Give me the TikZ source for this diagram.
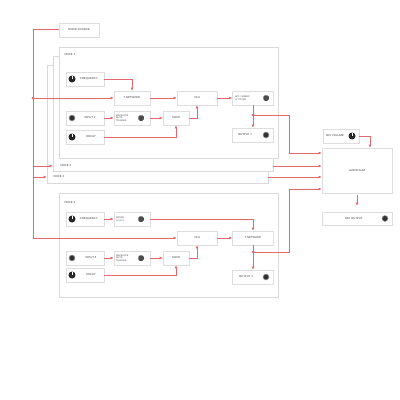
\documentclass[tikz,border=0pt]{standalone}
\usepackage{fontspec}
\setmainfont{Liberation Sans}
\usetikzlibrary{arrows.meta,shadows}
\definecolor{wirered}{RGB}{230,104,108}
\tikzset{
  panel/.style={draw=black!15, fill=white, line width=1.2pt, inner sep=0},
  box/.style={draw=black!13, fill=white, line width=1.4pt, minimum height=14mm, inner sep=0,
    font=\fontsize{8}{9.5}\selectfont, text=black!75,
    drop shadow={shadow xshift=0.5mm, shadow yshift=-0.7mm, opacity=0.08}},
  txt/.style={font=\fontsize{8}{9.5}\selectfont, text=black!75, inner sep=0, align=left},
  wire/.style={draw=wirered, line width=1mm},
  arr/.style={wire, -{Latex[length=9pt,width=8pt]}},
  knob/.style={circle, fill=black!85, minimum size=7mm, inner sep=0,
    path picture={\draw[white, line width=1.4pt] (path picture bounding box.center) -- (path picture bounding box.north);}},
  jack/.style={circle, fill=black!80, draw=black!35, line width=1.5pt, minimum size=6mm, inner sep=0},
  trim/.style={rectangle, rounded corners=1.5mm, fill=black!70, minimum size=5.5mm, inner sep=0},
  dot/.style={circle, fill=wirered, inner sep=0, minimum size=3mm}
}
\begin{document}
\begin{tikzpicture}[x=1mm, y=-1mm]
\path[fill=white, use as bounding box] (0,0) rectangle (400,400);

% noise source
\node[box, minimum width=40mm] (noise) at (79,30) {NOISE SOURCE};

% stacked voice panels
\node[panel, minimum width=221mm, minimum height=118mm] (v3) at (157.5,124) {};
\node[panel, minimum width=220mm, minimum height=115mm] (v2) at (163,113.5) {};
\node[panel, minimum width=219mm, minimum height=111mm] (v1) at (168.5,102.5) {};
\node[txt, anchor=west] (v3-t) at (53,177) {VOICE 3};
\node[txt, anchor=west] (v2-t) at (60,166) {VOICE 2};
\node[txt, anchor=west] (v1-t) at (64,55) {VOICE 1};

% voice 1
\node[box, minimum width=38mm] (freq1) at (85,79) {};
\node[knob] (freq1-k) at (72,79) {};
\node[txt] (freq1-t) at (89,79) {FREQUENCY};
\node[box, minimum width=36mm] (tnet1) at (132,98) {T-NETWORK};
\node[box, minimum width=40mm] (vca1) at (197,98) {VCA};
\node[box, minimum width=41mm] (filt1) at (253,98) {};
\node[txt, anchor=west, font=\fontsize{6.5}{7.5}\selectfont] (filt1-t) at (235,98) {HPF / SWEEP\\LP FILTER};
\node[trim] (filt1-k) at (266,98) {};
\node[box, minimum width=41mm] (out1) at (253,135) {};
\node[txt] (out1-t) at (245,135) {OUTPUT 1};
\node[jack] (out1-j) at (266,135) {};
\node[box, minimum width=38mm] (in1) at (85,118) {};
\node[jack] (in1-j) at (72,118) {};
\node[txt] (in1-t) at (90,118) {INPUT 1};
\node[box, minimum width=36mm] (env1) at (132,118) {};
\node[txt, anchor=west, font=\fontsize{6.5}{7.5}\selectfont] (env1-t) at (116,118) {ENVELOPE\\MUTE\\TRIGGER};
\node[trim] (env1-k) at (141,118) {};
\node[box, minimum width=26mm] (slew1) at (176,118) {SLEW};
\node[box, minimum width=38mm] (decay1) at (85,137) {};
\node[knob] (decay1-k) at (72,137) {};
\node[txt] (decay1-t) at (91,137) {DECAY};

% voice 4
\node[panel, minimum width=219mm, minimum height=104mm] (v4) at (168.5,245) {};
\node[txt, anchor=west] (v4-t) at (64,203) {VOICE 4};
\node[box, minimum width=38mm] (freq4) at (85,219) {};
\node[knob] (freq4-k) at (72,219) {};
\node[txt] (freq4-t) at (89,219) {FREQUENCY};
\node[box, minimum width=36mm] (range4) at (132,219) {};
\node[txt, anchor=west, font=\fontsize{6.5}{7.5}\selectfont] (range4-t) at (116,219) {RANGE\\H / M / L};
\node[trim] (range4-k) at (141,219) {};
\node[box, minimum width=40mm] (vca4) at (197,238) {VCA};
\node[box, minimum width=41mm] (tnet4) at (253,238) {T-NETWORK};
\node[box, minimum width=41mm] (out4) at (253,277) {};
\node[txt] (out4-t) at (246,277) {OUTPUT 4};
\node[jack] (out4-j) at (266,277) {};
\node[box, minimum width=38mm] (in4) at (85,258) {};
\node[jack] (in4-j) at (72,258) {};
\node[txt] (in4-t) at (91,258) {INPUT 4};
\node[box, minimum width=36mm] (env4) at (132,258) {};
\node[txt, anchor=west, font=\fontsize{6.5}{7.5}\selectfont] (env4-t) at (116,258) {ENVELOPE\\MUTE\\TRIGGER};
\node[trim] (env4-k) at (141,258) {};
\node[box, minimum width=26mm] (slew4) at (176,258) {SLEW};
\node[box, minimum width=38mm] (decay4) at (85,275) {};
\node[knob] (decay4-k) at (72,275) {};
\node[txt] (decay4-t) at (91,275) {DECAY};

% mixer
\node[box, minimum width=70mm, minimum height=45mm] (sum) at (357,170.5) {AUDIO SUM};
\node[box, minimum width=36mm] (mixvol) at (341,136) {};
\node[txt] (mixvol-t) at (335,136) {MIX VOLUME};
\node[knob] (mixvol-k) at (352,136) {};
\node[box, minimum width=70mm, minimum height=13mm] (mixout) at (357,218.5) {};
\node[txt] (mixout-t) at (354,218.5) {MIX OUTPUT};
\node[jack] (mixout-j) at (385,218.5) {};

% noise bus
\coordinate (tap1) at (33,98);
\coordinate (tap2) at (33,166);
\coordinate (tap3) at (33,177);
\coordinate (tap4) at (33,238);
\draw[wire] (noise.west) -| (tap4);
\draw[arr] (tap1) -- (tnet1.west);
\draw[arr] (tap2) -- (v2.west |- tap2);
\draw[arr] (tap3) -- (v3.west |- tap3);
\draw[arr] (tap4) -- (vca4.west);
\node[dot] (tap1-d) at (tap1) {};

% voice 1 wiring
\draw[arr] (freq1.east) -| (tnet1.north);
\draw[arr] (tnet1.east) -- (vca1.west);
\draw[arr] (vca1.east) -- (filt1.west);
\draw[arr] (filt1.south) -- (out1.north);
\draw[arr] (in1.east) -- (env1.west);
\draw[arr] (env1.east) -- (slew1.west);
\draw[arr] (slew1.east) -| (vca1.south);
\draw[arr] (decay1.east) -| (slew1.south);
\node[dot] (j1) at (253,115) {};
\coordinate (c1) at (289,153);
\draw[arr] (j1.center) -| (c1) -- (sum.west |- c1);

% voice 2 and 3 outputs
\draw[arr] (v2.east |- tap2) -- (sum.west |- tap2);
\draw[arr] (v3.east |- tap3) -- (sum.west |- tap3);

% voice 4 wiring
\draw[arr] (freq4.east) -- (range4.west);
\draw[arr] (range4.east) -| (tnet4.north);
\draw[arr] (vca4.east) -- (tnet4.west);
\draw[arr] (tnet4.south) -- (out4.north);
\draw[arr] (in4.east) -- (env4.west);
\draw[arr] (env4.east) -- (slew4.west);
\draw[arr] (slew4.east) -| (vca4.south);
\draw[arr] (decay4.east) -| (slew4.south);
\node[dot] (j4) at (253,252) {};
\coordinate (c4) at (289,189);
\draw[arr] (j4.center) -| (c4) -- (sum.west |- c4);

% mix
\draw[arr] (mixvol.east) -| ([xshift=13mm]sum.north);
\draw[arr, shorten <=2mm, shorten >=6mm] (sum.south) -- (mixout.north);
\end{tikzpicture}
\end{document}
